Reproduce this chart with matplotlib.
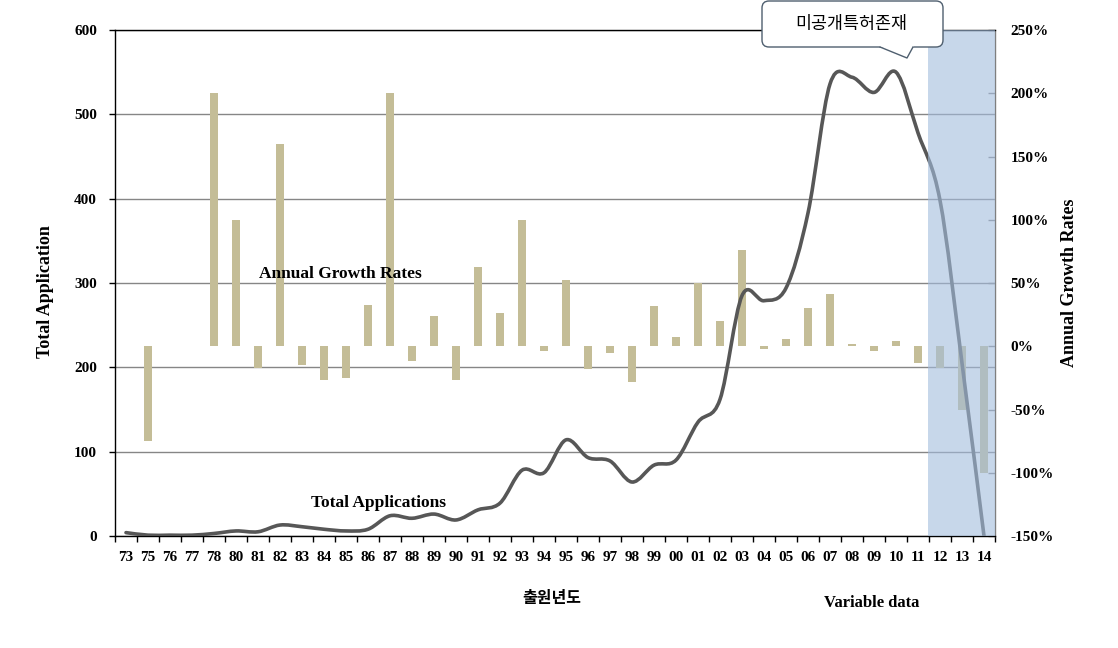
import matplotlib
matplotlib.use("Agg")
import matplotlib.pyplot as plt
import numpy as np
from matplotlib.path import Path
from matplotlib.patches import PathPatch, FancyBboxPatch, Polygon
from matplotlib.lines import Line2D
from matplotlib.transforms import IdentityTransform
from matplotlib.ticker import FixedLocator

years = ["73", "75", "76", "77", "78", "80", "81", "82", "83", "84",
         "85", "86", "87", "88", "89", "90", "91", "92", "93", "94",
         "95", "96", "97", "98", "99", "00", "01", "02", "03", "04",
         "05", "06", "07", "08", "09", "10", "11", "12", "13", "14"]
total_apps = [4, 1, 1, 1, 3, 6, 5, 13, 11, 8,
              6, 8, 24, 21, 26, 19, 31, 39, 78, 75,
              114, 93, 89, 64, 84, 90, 135, 162, 285, 279,
              294, 383, 536, 544, 526, 550, 478, 398, 205, 0]
growth_pct = [0, -75, 0, 0, 200, 100, -17, 160, -15, -27,
              -25, 33, 200, -12, 24, -27, 63, 26, 100, -4,
              52, -18, -5, -28, 32, 7, 50, 20, 76, -2,
              5.5, 30, 41, 1.5, -4, 4, -13, -17, -50, -100]
left_ticks = [0, 100, 200, 300, 400, 500, 600]
right_ticks = [-150, -100, -50, 0, 50, 100, 150, 200, 250]
variable_from = "12"

SERIF = "Liberation Serif"
KR = ["Noto Sans CJK KR", "DejaVu Sans"]

W, H = 1118, 648
fig = plt.figure(figsize=(W / 100, H / 100), dpi=100)
rect = [115 / W, 112 / H, 880 / W, 506 / H]
ax1 = fig.add_axes(rect)
ax2 = ax1.twinx()
ax3 = ax1.twinx()

n = len(years)
x = np.arange(n)

# --- base axis (left scale, gridlines, x ticks)
ax1.set_xlim(-0.5, n - 0.5)
ax1.set_ylim(0, 600)
ax1.set_yticks(left_ticks)
ax1.set_yticklabels([str(v) for v in left_ticks], fontfamily=SERIF,
                    fontweight="bold", fontsize=11)
ax1.yaxis.grid(True, color="#868686", lw=1)
ax1.set_axisbelow(True)
ax1.tick_params(axis="y", direction="out", length=4, width=1, pad=9)
ax1.set_xticks(x)
ax1.set_xticklabels(years, fontfamily=SERIF, fontweight="bold", fontsize=11)
ax1.xaxis.set_minor_locator(FixedLocator(np.arange(n + 1) - 0.5))
ax1.tick_params(axis="x", which="major", length=0, pad=11)
ax1.tick_params(axis="x", which="minor", length=4, width=1, direction="out")
for s in ax1.spines.values():
    s.set_visible(False)

# --- bars (right scale)
ax2.set_ylim(-150, 250)
ax2.bar(x, growth_pct, width=0.4, color="#C4BD97", zorder=2)
ax2.set_yticks(right_ticks)
ax2.set_yticklabels([f"{v}%" for v in right_ticks], fontfamily=SERIF,
                    fontweight="bold", fontsize=11)
ax2.tick_params(axis="y", direction="in", length=5, width=1, pad=11,
                color="#868686")
ax2.patch.set_visible(False)
for s in ax2.spines.values():
    s.set_visible(False)

# --- line (left scale) with smoothing
ax3.set_ylim(0, 600)
ax3.set_xlim(-0.5, n - 0.5)
ax3.set_yticks([])
ax3.patch.set_visible(False)
pts = np.column_stack([x, total_apps]).astype(float)
verts = [tuple(pts[0])]
codes = [Path.MOVETO]
for i in range(n - 1):
    p0 = pts[i - 1] if i > 0 else pts[i]
    p1 = pts[i]
    p2 = pts[i + 1]
    p3 = pts[i + 2] if i + 2 < n else pts[i + 1]
    c1 = p1 + (p2 - p0) / 6.0
    c2 = p2 - (p3 - p1) / 6.0
    verts += [tuple(c1), tuple(c2), tuple(p2)]
    codes += [Path.CURVE4] * 3
ax3.add_patch(PathPatch(Path(verts, codes), facecolor="none",
                        edgecolor="#575757", lw=2.6, zorder=3,
                        capstyle="round", joinstyle="round"))
vi = years.index(variable_from)
ax3.axvspan(vi - 0.55, n - 0.5, color="#A3BDDD", alpha=0.6, lw=0, zorder=5)
for side in ["left", "bottom", "top", "right"]:
    ax3.spines[side].set_color("black")
    ax3.spines[side].set_linewidth(1)
ax3.spines["right"].set_color("#7f7f7f")

# --- in-plot labels
ax3.text(0.2557, 0.518, "Annual Growth Rates", transform=ax3.transAxes,
         ha="center", va="center", fontfamily=SERIF, fontweight="bold",
         fontsize=12.5, zorder=6)
ax3.text(0.2989, 0.065, "Total Applications", transform=ax3.transAxes,
         ha="center", va="center", fontfamily=SERIF, fontweight="bold",
         fontsize=12.5, zorder=6)

# --- axis titles
fig.text(46 / W, 1 - 292 / H, "Total Application", rotation=90,
         ha="center", va="center", fontfamily=SERIF, fontweight="bold",
         fontsize=13)
fig.text(1070 / W, 1 - 283 / H, "Annual Growth Rates", rotation=90,
         ha="center", va="center", fontfamily=SERIF, fontweight="bold",
         fontsize=13)
fig.text(552 / W, 1 - 598 / H, "출원년도", ha="center", va="center",
         fontfamily=KR, fontweight="bold", fontsize=11.5)
fig.text(872 / W, 1 - 603 / H, "Variable data", ha="center", va="center",
         fontfamily=SERIF, fontweight="bold", fontsize=12)

# --- callout
edge = "#4F5F6F"
box = FancyBboxPatch((762, H - 47), 181, 46,
                     boxstyle="round,pad=0,rounding_size=7",
                     facecolor="white", edgecolor=edge, lw=1,
                     transform=IdentityTransform(), zorder=10)
fig.add_artist(box)
tail = Polygon([(879, H - 46), (907, H - 58), (914, H - 46)], closed=True,
               facecolor="white", edgecolor="none",
               transform=IdentityTransform(), zorder=11)
fig.add_artist(tail)
fig.add_artist(Line2D([880, 907, 913], [H - 47, H - 58, H - 47], color=edge,
                      lw=1, transform=IdentityTransform(), zorder=12))
fig.text(851 / W, 1 - 24 / H, "미공개특허존재", ha="center", va="center",
         fontfamily=KR, fontsize=12.5, zorder=13)

fig.savefig("out.png", dpi=100)
